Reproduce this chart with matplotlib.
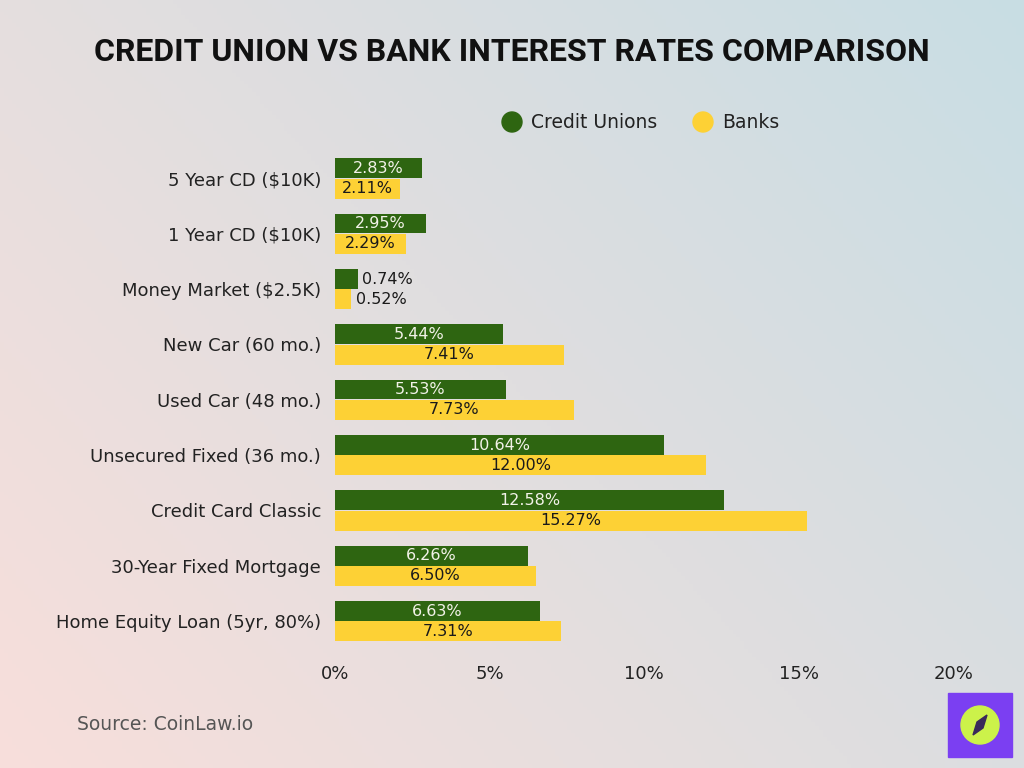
import numpy as np
import matplotlib
matplotlib.use("Agg")
import matplotlib.pyplot as plt
from matplotlib.patches import Rectangle, Ellipse, Polygon

categories = ["5 Year CD ($10K)", "1 Year CD ($10K)", "Money Market ($2.5K)",
              "New Car (60 mo.)", "Used Car (48 mo.)", "Unsecured Fixed (36 mo.)",
              "Credit Card Classic", "30-Year Fixed Mortgage", "Home Equity Loan (5yr, 80%)"]
credit_unions = [2.83, 2.95, 0.74, 5.44, 5.53, 10.64, 12.58, 6.26, 6.63]
banks = [2.11, 2.29, 0.52, 7.41, 7.73, 12.00, 15.27, 6.50, 7.31]
xticks = [0, 5, 10, 15, 20]
xtick_labels = ["0%", "5%", "10%", "15%", "20%"]

GREEN = "#2e6511"
YELLOW = "#fdd135"

fig = plt.figure(figsize=(10.24, 7.68), dpi=100)

# background gradient
bg = fig.add_axes([0, 0, 1, 1], zorder=-10)
h, w = 200, 260
yy, xx = np.mgrid[0:h, 0:w]
t = (xx / w) * 0.6 + (1 - yy / h) * 0.4
c0 = np.array([0xf8, 0xdf, 0xdb]) / 255.0
c1 = np.array([0xc8, 0xdd, 0xe4]) / 255.0
img = c0[None, None, :] * (1 - t[..., None]) + c1[None, None, :] * t[..., None]
bg.imshow(img, extent=[0, 1, 0, 1], aspect="auto", origin="upper")
bg.set_axis_off()

ax = fig.add_axes([0.327, 0.148, 0.604, 0.663])
ax.patch.set_alpha(0)
n = len(categories)
y = np.arange(n)
bh = 0.36
ax.barh(y - bh / 2 - 0.005, credit_unions, height=bh, color=GREEN, zorder=3)
ax.barh(y + bh / 2 + 0.005, banks, height=bh, color=YELLOW, zorder=3)

for i in range(n):
    cu, bk = credit_unions[i], banks[i]
    if cu > 2:
        ax.text(cu / 2, i - bh / 2, f"{cu:.2f}%", ha="center", va="center",
                fontsize=11.5, color="#f2f2e8", zorder=4)
    else:
        ax.text(cu + 0.15, i - bh / 2, f"{cu:.2f}%", ha="left", va="center",
                fontsize=11.5, color="#1a1a1a", zorder=4)
    if bk > 2:
        ax.text(bk / 2, i + bh / 2, f"{bk:.2f}%", ha="center", va="center",
                fontsize=11.5, color="#1a1a1a", zorder=4)
    else:
        ax.text(bk + 0.15, i + bh / 2, f"{bk:.2f}%", ha="left", va="center",
                fontsize=11.5, color="#1a1a1a", zorder=4)

ax.set_xlim(0, 20)
ax.set_ylim(n - 1 + 0.6, -0.6)
ax.set_yticks(y)
ax.set_yticklabels(categories, fontsize=13, color="#222222")
ax.set_xticks(xticks)
ax.set_xticklabels(xtick_labels, fontsize=13, color="#222222")
ax.tick_params(length=0, pad=8)
ax.tick_params(axis="y", pad=10)
for s in ax.spines.values():
    s.set_visible(False)

# title, sized to span the reference width
title = fig.text(0.5, 1 - 52 / 768, "CREDIT UNION VS BANK INTEREST RATES COMPARISON",
                 ha="center", va="center", fontsize=30, fontweight="bold",
                 family=["Roboto", "DejaVu Sans"], color="#111111")
fig.canvas.draw()
bb = title.get_window_extent()
title.set_fontsize(30 * 833 / bb.width)

# legend
for xc, col, lab in [(512, GREEN, "Credit Unions"), (703, YELLOW, "Banks")]:
    fig.patches.append(Ellipse((xc / 1024, 1 - 122 / 768), 20 / 1024, 20 / 768,
                               transform=fig.transFigure, color=col, figure=fig))
    fig.text((xc + 19) / 1024, 1 - 122 / 768, lab, ha="left", va="center",
             fontsize=13.5, color="#222222")

# source
fig.text(77 / 1024, 1 - 724 / 768, "Source: CoinLaw.io", ha="left", va="center",
         fontsize=13.5, color="#555555")

# logo
lx0, ly0, lw = 948 / 1024, 1 - 757 / 768, 64 / 1024
fig.patches.append(Rectangle((lx0, ly0), lw, 64 / 768, transform=fig.transFigure,
                             color="#7b3ff2", figure=fig))
cx, cy = 980 / 1024, 1 - 725 / 768
fig.patches.append(Ellipse((cx, cy), 38 / 1024, 38 / 768, transform=fig.transFigure,
                           color="#ccf24a", figure=fig))
d = [(cx + 7 / 1024, cy + 10 / 768), (cx + 3 / 1024, cy - 3 / 768),
     (cx - 7 / 1024, cy - 10 / 768), (cx - 3 / 1024, cy + 3 / 768)]
fig.patches.append(Polygon(d, closed=True, transform=fig.transFigure,
                           color="#3a2a5a", figure=fig))

fig.savefig("out.png", dpi=100)
